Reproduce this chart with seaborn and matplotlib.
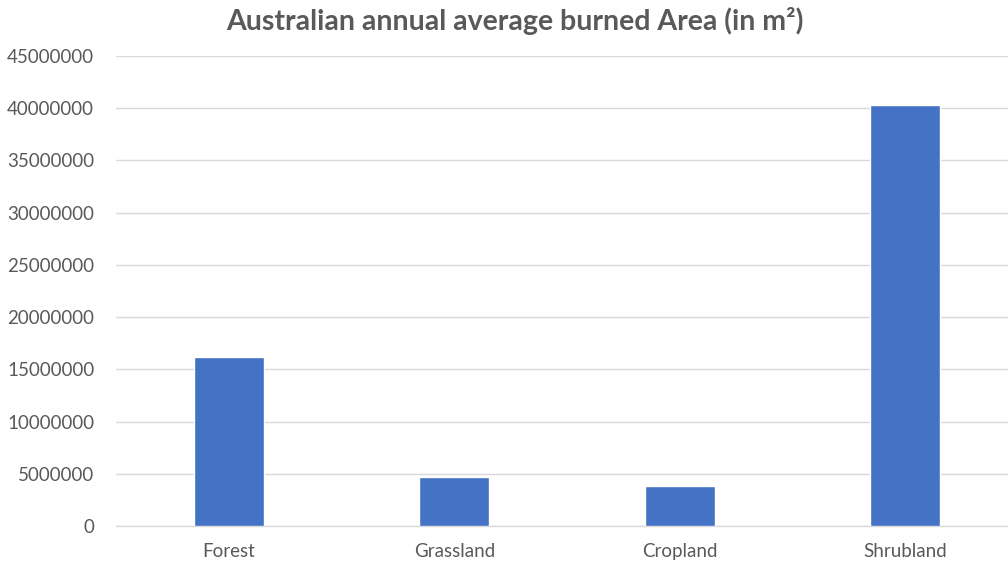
import matplotlib
matplotlib.use("Agg")
import matplotlib.pyplot as plt
import seaborn as sns
import pandas as pd

categories = ["Forest", "Grassland", "Cropland", "Shrubland"]
burned_area = [16200000, 4730000, 3840000, 40270000]
yticks = list(range(0, 45000001, 5000000))

sns.set_theme(style="white")
plt.rcParams['font.family'] = ['Lato', 'DejaVu Sans']

df = pd.DataFrame({"category": categories, "area": burned_area})

fig = plt.figure(figsize=(10.08, 5.62), dpi=100)
ax = fig.add_axes([0.1155, 0.064, 0.894, 0.8364])
sns.barplot(data=df, x="category", y="area", color="#4472C4", width=0.311,
            saturation=1, ax=ax, zorder=3)

ax.set_xlim(-0.5, 3.5)
ax.set_ylim(0, 45000000)
ax.set_yticks(yticks)
ax.set_yticklabels([str(v) for v in yticks])
ax.yaxis.grid(True, color="#d9d9d9", linewidth=1, zorder=0)
ax.set_axisbelow(True)
for s in ["top", "right", "left"]:
    ax.spines[s].set_visible(False)
ax.spines["bottom"].set_color("#d9d9d9")
ax.spines["bottom"].set_linewidth(1)
ax.tick_params(axis="both", length=0, labelsize=13.5, colors="#595959")
ax.tick_params(axis="y", pad=16)
ax.tick_params(axis="x", pad=12)
ax.set_xlabel("")
ax.set_ylabel("")
fig.text(515 / 1008, 0.962, "Australian annual average burned Area (in m²)", ha="center",
         va="center", fontsize=20.5, fontweight="bold", color="#595959")

fig.savefig("out.png", dpi=100)
